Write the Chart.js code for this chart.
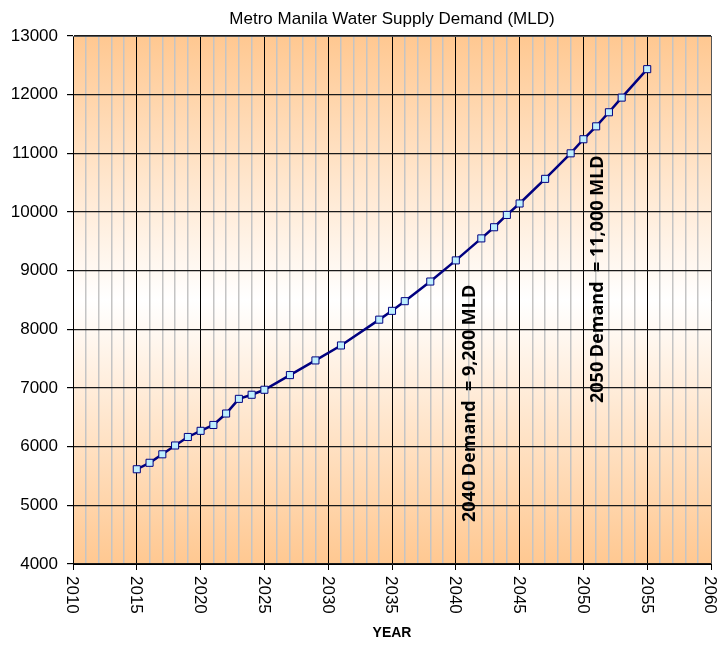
<!DOCTYPE html>
<html>
<head>
<meta charset="utf-8">
<script src="https://cdn.jsdelivr.net/npm/chart.js@4/dist/chart.umd.min.js"></script>
<style>
  html, body { margin: 0; padding: 0; background: #fff; }
  #wrap { width: 724px; height: 668px; position: relative; }
</style>
</head>
<body>
<div id="wrap"><canvas id="c"></canvas></div>
<script>
const years = [2015, 2016, 2017, 2018, 2019, 2020, 2021, 2022, 2023, 2024, 2025, 2027, 2029, 2031,
               2034, 2035, 2036, 2038, 2040, 2042, 2043, 2044, 2045, 2047, 2049, 2050, 2051, 2052, 2053, 2055];
const demand = [5615, 5725, 5870, 6020, 6165, 6270, 6370, 6565, 6815, 6885, 6970, 7220, 7470, 7725,
                8165, 8315, 8480, 8815, 9175, 9550, 9740, 9950, 10145, 10565, 11000, 11240, 11460, 11700, 11950, 12435];
const yearTicks = [2010, 2015, 2020, 2025, 2030, 2035, 2040, 2045, 2050, 2055, 2060];
const chartTitle = 'Metro Manila Water Supply Demand (MLD)';
const notes = [
  { year: 2040, text: '2040 Demand  = 9,200 MLD' },
  { year: 2050, text: '2050 Demand  = 11,000 MLD' }
];

const points = years.map((y, i) => ({ x: y, y: demand[i] }));

const bgPlugin = {
  id: 'bg',
  beforeDraw(chart) {
    const { ctx, chartArea: a } = chart;
    const g = ctx.createLinearGradient(0, a.top, 0, a.bottom);
    g.addColorStop(0, '#FFC891');
    g.addColorStop(0.5, '#FFFFFF');
    g.addColorStop(1, '#FFC891');
    ctx.save();
    ctx.fillStyle = g;
    ctx.fillRect(a.left, a.top, a.right - a.left, a.bottom - a.top);
    ctx.restore();
  },
  afterDraw(chart) {
    const { ctx, chartArea: a, scales } = chart;
    ctx.save();
    ctx.strokeStyle = '#555';
    ctx.lineWidth = 1;
    ctx.beginPath();
    ctx.moveTo(a.left, a.top + 0.5);
    ctx.lineTo(a.right + 0.5, a.top + 0.5);
    ctx.lineTo(a.right + 0.5, a.bottom);
    ctx.stroke();

    // title, centred over the plot area
    ctx.fillStyle = '#000';
    ctx.font = '17px "Liberation Sans", Arial, sans-serif';
    ctx.textAlign = 'center';
    ctx.textBaseline = 'middle';
    ctx.fillText(chartTitle, (a.left + a.right) / 2, 19);

    // x tick labels, rotated clockwise
    ctx.font = '17px "Liberation Sans", Arial, sans-serif';
    ctx.textAlign = 'left';
    yearTicks.forEach(v => {
      const px = scales.x.getPixelForValue(v) - 1;
      ctx.save();
      ctx.translate(px, a.bottom + 12);
      ctx.rotate(Math.PI / 2);
      ctx.fillText(String(v), 0, 0);
      ctx.restore();
    });

    // rotated notes
    ctx.font = 'bold 18px "Open Sans", sans-serif';
    notes.forEach((n, i) => {
      const px = scales.x.getPixelForValue(n.year) + 14.5;
      const py = i === 0 ? a.bottom - 42 : a.bottom - 161;
      ctx.save();
      ctx.translate(px, py);
      ctx.rotate(-Math.PI / 2);
      ctx.fillText(n.text, 0, 0);
      ctx.restore();
    });
    ctx.restore();
  }
};

new Chart(document.getElementById('c'), {
  type: 'line',
  data: {
    datasets: [{
      data: points,
      borderColor: '#000080',
      borderWidth: 2.5,
      pointStyle: 'rect',
      pointRadius: 5,
      pointBackgroundColor: '#BDEFFF',
      pointBorderColor: '#000080',
      pointBorderWidth: 1,
      tension: 0,
    }],
  },
  options: {
    responsive: true,
    maintainAspectRatio: false,
    animation: false,
    layout: { padding: { left: 0, right: 13, top: 36, bottom: 0 } },
    plugins: {
      legend: { display: false },
      tooltip: { enabled: false },
    },
    scales: {
      x: {
        type: 'linear',
        min: 2010,
        max: 2060,
        afterFit: s => { s.height = 104; },
        ticks: { stepSize: 1, display: false },
        border: { color: '#000', width: 1 },
        grid: {
          color: c => c.tick && c.tick.value % 5 === 0 ? '#000' : '#C4C4C4',
          lineWidth: c => c.tick && c.tick.value % 5 === 0 ? 1 : 1.5,
          tickColor: c => c.tick && c.tick.value % 5 === 0 ? '#000' : 'rgba(0,0,0,0)',
          tickLength: 6,
        },
        title: {
          display: true,
          text: 'YEAR',
          color: '#000',
          font: { family: '"Liberation Sans", Arial, sans-serif', size: 14, weight: 'bold' },
          padding: { top: 0, bottom: 26 },
        },
      },
      y: {
        min: 4000,
        max: 13000,
        afterFit: s => { s.width = 73; },
        ticks: {
          stepSize: 1000,
          color: '#000',
          padding: 9,
          font: { family: '"Liberation Sans", Arial, sans-serif', size: 17 },
          callback: v => String(v),
        },
        border: { color: '#000', width: 1 },
        grid: {
          color: '#1a1a1a',
          lineWidth: 1.2,
          tickColor: '#000',
          tickLength: 6,
        },
      },
    },
  },
  plugins: [bgPlugin],
});
</script>
</body>
</html>
